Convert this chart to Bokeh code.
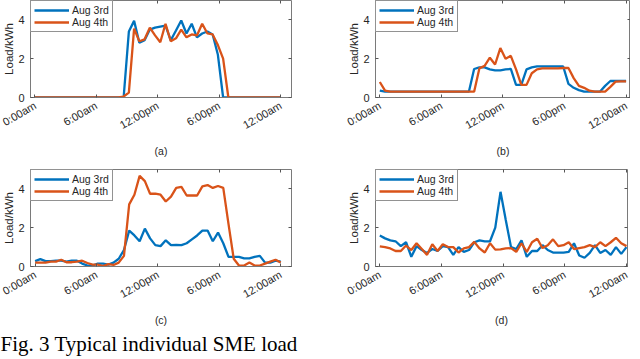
import math
import numpy as np
from bokeh.plotting import figure
from bokeh.layouts import column, row
from bokeh.models import Range1d, FixedTicker, Legend, LegendItem, Title, LinearAxis
from bokeh.embed import file_html
from bokeh.resources import INLINE

# ---- data (48 half-hourly readings spanning 0:00am .. 12:00am) ----
slots = np.arange(48)
hours = slots * 24 / 47

tick_hours = [0, 6, 12, 18, 24]
tick_labels = ["0:00am", "6:00am", "12:00pm", "6:00pm", "12:00am"]
y_ticks = [0, 2, 4]
series_names = ["Aug 3rd", "Aug 4th"]
panel_labels = ["(a)", "(b)", "(c)", "(d)"]
caption = "Fig. 3 Typical individual SME load"

a_aug3 = [0, 0, 0, 0, 0, 0, 0, 0, 0, 0, 0, 0, 0, 0, 0, 0, 0, 0,
          3.4, 3.95, 2.82, 2.95, 3.5, 3.6, 3.65, 3.7, 2.95, 3.45, 3.97, 3.3,
          3.8, 3.1, 3.3, 3.4, 3.25, 2.2,
          0, 0, 0, 0, 0, 0, 0, 0, 0, 0, 0, 0]
a_aug4 = [0, 0, 0, 0, 0, 0, 0, 0, 0, 0, 0, 0, 0, 0, 0, 0, 0,
          0.05, 0.25, 3.55, 2.9, 3.0, 3.6, 3.2, 2.85, 3.8, 2.9, 3.05, 3.5,
          3.1, 3.25, 3.2, 3.8, 3.3, 3.25, 2.7, 2.0,
          0, 0, 0, 0, 0, 0, 0, 0, 0, 0, 0]

b_aug3 = [0.35, 0.3, 0.3, 0.3, 0.3, 0.3, 0.3, 0.3, 0.3, 0.3, 0.3, 0.3, 0.3, 0.3,
          0.3, 0.3, 0.3, 0.3, 1.47, 1.55, 1.55, 1.45, 1.4, 1.4, 1.45, 1.47,
          0.65, 0.65, 1.45, 1.55, 1.6, 1.6, 1.6, 1.6, 1.6, 1.6, 0.7, 0.5,
          0.38, 0.3, 0.3, 0.3, 0.3, 0.6, 0.85, 0.85, 0.85, 0.85]
b_aug4 = [0.8, 0.35, 0.3, 0.3, 0.3, 0.3, 0.3, 0.3, 0.3, 0.3, 0.3, 0.3, 0.3, 0.3,
          0.3, 0.3, 0.3, 0.3, 0.3, 1.5, 1.63, 2.05, 1.7, 2.55, 2.0, 2.15,
          1.45, 0.65, 0.65, 1.25, 1.45, 1.5, 1.5, 1.5, 1.5, 1.52, 1.52, 1.0,
          0.6, 0.5, 0.35, 0.3, 0.3, 0.3, 0.55, 0.82, 0.83, 0.83]

c_aug3 = [0.28, 0.38, 0.28, 0.28, 0.3, 0.3, 0.25, 0.3, 0.3, 0.15, 0.05, 0.05,
          0.15, 0.15, 0.1, 0.2, 0.4, 0.85, 1.85, 1.6, 1.3, 1.95, 1.45, 1.1,
          1.05, 1.35, 1.1, 1.12, 1.1, 1.2, 1.4, 1.6, 1.85, 1.85, 1.3, 1.75,
          1.2, 0.5, 0.5, 0.5, 0.42, 0.42, 0.5, 0.55, 0.2, 0.2, 0.3, 0.25]
c_aug4 = [0.2, 0.2, 0.2, 0.25, 0.25, 0.35, 0.22, 0.22, 0.25, 0.3, 0.18, 0.1,
          0.1, 0.02, 0.12, 0.08, 0.2, 0.55, 3.2, 3.7, 4.67, 4.4, 3.75, 3.76,
          3.7, 3.35, 3.6, 4.05, 4.1, 3.66, 3.66, 3.66, 4.13, 4.2, 4.05, 4.15,
          4.05, 2.2, 0.4, 0.05, 0.05, 0.2, 0.05, 0.05, 0.15, 0.25, 0.35, 0.2]

d_aug3 = [1.6, 1.45, 1.35, 1.3, 1.05, 1.25, 0.5, 1.05, 0.85, 0.7, 0.9, 0.8,
          1.05, 1.0, 0.6, 1.0, 0.75, 0.85, 1.25, 1.35, 1.3, 1.3, 2.0, 3.85,
          2.4, 1.0, 0.9, 1.35, 0.5, 0.8, 0.8, 1.1, 0.85, 0.72, 0.72, 0.72,
          0.75, 1.2, 0.57, 0.45, 0.7, 1.1, 0.7, 0.85, 0.6, 1.0, 0.65, 1.0]
d_aug4 = [1.04, 1.0, 0.93, 0.8, 0.8, 1.08, 0.85, 1.2, 0.9, 0.6, 1.15, 0.8,
          1.15, 1.0, 1.0, 0.72, 0.93, 1.0, 1.27, 0.93, 0.72, 1.2, 0.87, 0.88,
          0.93, 0.95, 0.75, 1.2, 0.75, 1.25, 1.43, 0.95, 1.1, 1.4, 1.05, 1.1,
          1.25, 0.9, 0.95, 1.0, 1.1, 1.0, 1.25, 1.05, 1.25, 1.48, 1.2, 1.05]

BLUE = "#0072BD"
RED = "#D95319"
AX = "#262626"
FONT = "Liberation Sans"


def box_axis(ticks):
    # tick marks only (MATLAB "box on" look), no labels
    return LinearAxis(ticker=FixedTicker(ticks=ticks),
                      major_label_overrides={t: "" for t in ticks},
                      major_label_text_font_size="0px",
                      major_label_standoff=0,
                      major_tick_in=3, major_tick_out=0,
                      major_tick_line_color="#555555",
                      minor_tick_line_color=None,
                      axis_line_color=None)


def make_panel(label, aug3, aug4, xr, frame_w, left, right, bottom, frame_h):
    p = figure(frame_width=frame_w, frame_height=frame_h,
               x_range=Range1d(*xr), y_range=Range1d(0, 5),
               output_backend="svg", toolbar_location=None,
               min_border_left=left, min_border_right=right,
               min_border_top=0, min_border_bottom=bottom,
               outline_line_color="#7a7a7a", outline_line_width=1,
               background_fill_color="white", border_fill_color="white")
    p.grid.visible = False
    r3 = p.line(hours, aug3, line_color=BLUE, line_width=2.3)
    r4 = p.line(hours, aug4, line_color=RED, line_width=2.3)

    xa = p.xaxis[0]
    xa.ticker = FixedTicker(ticks=tick_hours)
    xa.major_label_overrides = {t: l for t, l in zip(tick_hours, tick_labels)}
    xa.major_label_orientation = math.radians(30)
    xa.axis_label = label
    ya = p.yaxis[0]
    ya.ticker = FixedTicker(ticks=y_ticks)
    ya.axis_label = "Load/kWh"
    for ax in (xa, ya):
        ax.axis_line_color = "#7a7a7a"
        ax.major_tick_in = 3
        ax.major_tick_out = 0
        ax.minor_tick_line_color = None
        ax.major_tick_line_color = "#555555"
        ax.major_label_text_font = FONT
        ax.major_label_text_font_size = "11px"
        ax.major_label_text_color = AX
        ax.axis_label_text_font = FONT
        ax.axis_label_text_font_style = "normal"
        ax.axis_label_text_color = AX
    xa.major_label_standoff = 7
    xa.axis_label_text_font_size = "10.5px"
    xa.axis_label_standoff = 6
    ya.major_label_standoff = 6
    ya.axis_label_text_font_size = "11.5px"
    ya.axis_label_standoff = 0

    p.add_layout(box_axis(tick_hours), "above")
    p.add_layout(box_axis(y_ticks), "right")

    legend = Legend(items=[LegendItem(label=series_names[0], renderers=[r3]),
                           LegendItem(label=series_names[1], renderers=[r4])],
                    location="top_left", margin=0, padding=3, spacing=0,
                    glyph_width=35, glyph_height=12, label_height=12,
                    label_standoff=3, label_text_font=FONT,
                    label_text_font_size="10.5px", label_text_color=AX,
                    border_line_color=AX, border_line_width=1,
                    background_fill_alpha=1)
    p.add_layout(legend)
    return p


FH = 97
pa = make_panel(panel_labels[0], a_aug3, a_aug4, (-0.4, 25.05), 261, 24, 52, 72, FH)
pb = make_panel(panel_labels[1], b_aug3, b_aug4, (-0.42, 24.43), 255, 32, 0, 72, FH)
pc = make_panel(panel_labels[2], c_aug3, c_aug4, (-0.45, 25.05), 261, 24, 52, 52, FH)
pd = make_panel(panel_labels[3], d_aug3, d_aug4, (-0.42, 24.1), 252, 32, 3, 52, FH)

cap = figure(frame_width=330, frame_height=1, output_backend="svg",
             toolbar_location=None, x_axis_type=None, y_axis_type=None,
             outline_line_color=None, min_border=0)
cap.grid.visible = False
cap.add_layout(Title(text=caption, text_font="Liberation Serif",
                     text_font_size="21px", text_font_style="normal",
                     text_color="black", align="left", offset=0,
                     standoff=0), "above")

layout = column(row(pa, pb), row(pc, pd), cap)

with open("out.html", "w") as f:
    f.write(file_html(layout, INLINE))
